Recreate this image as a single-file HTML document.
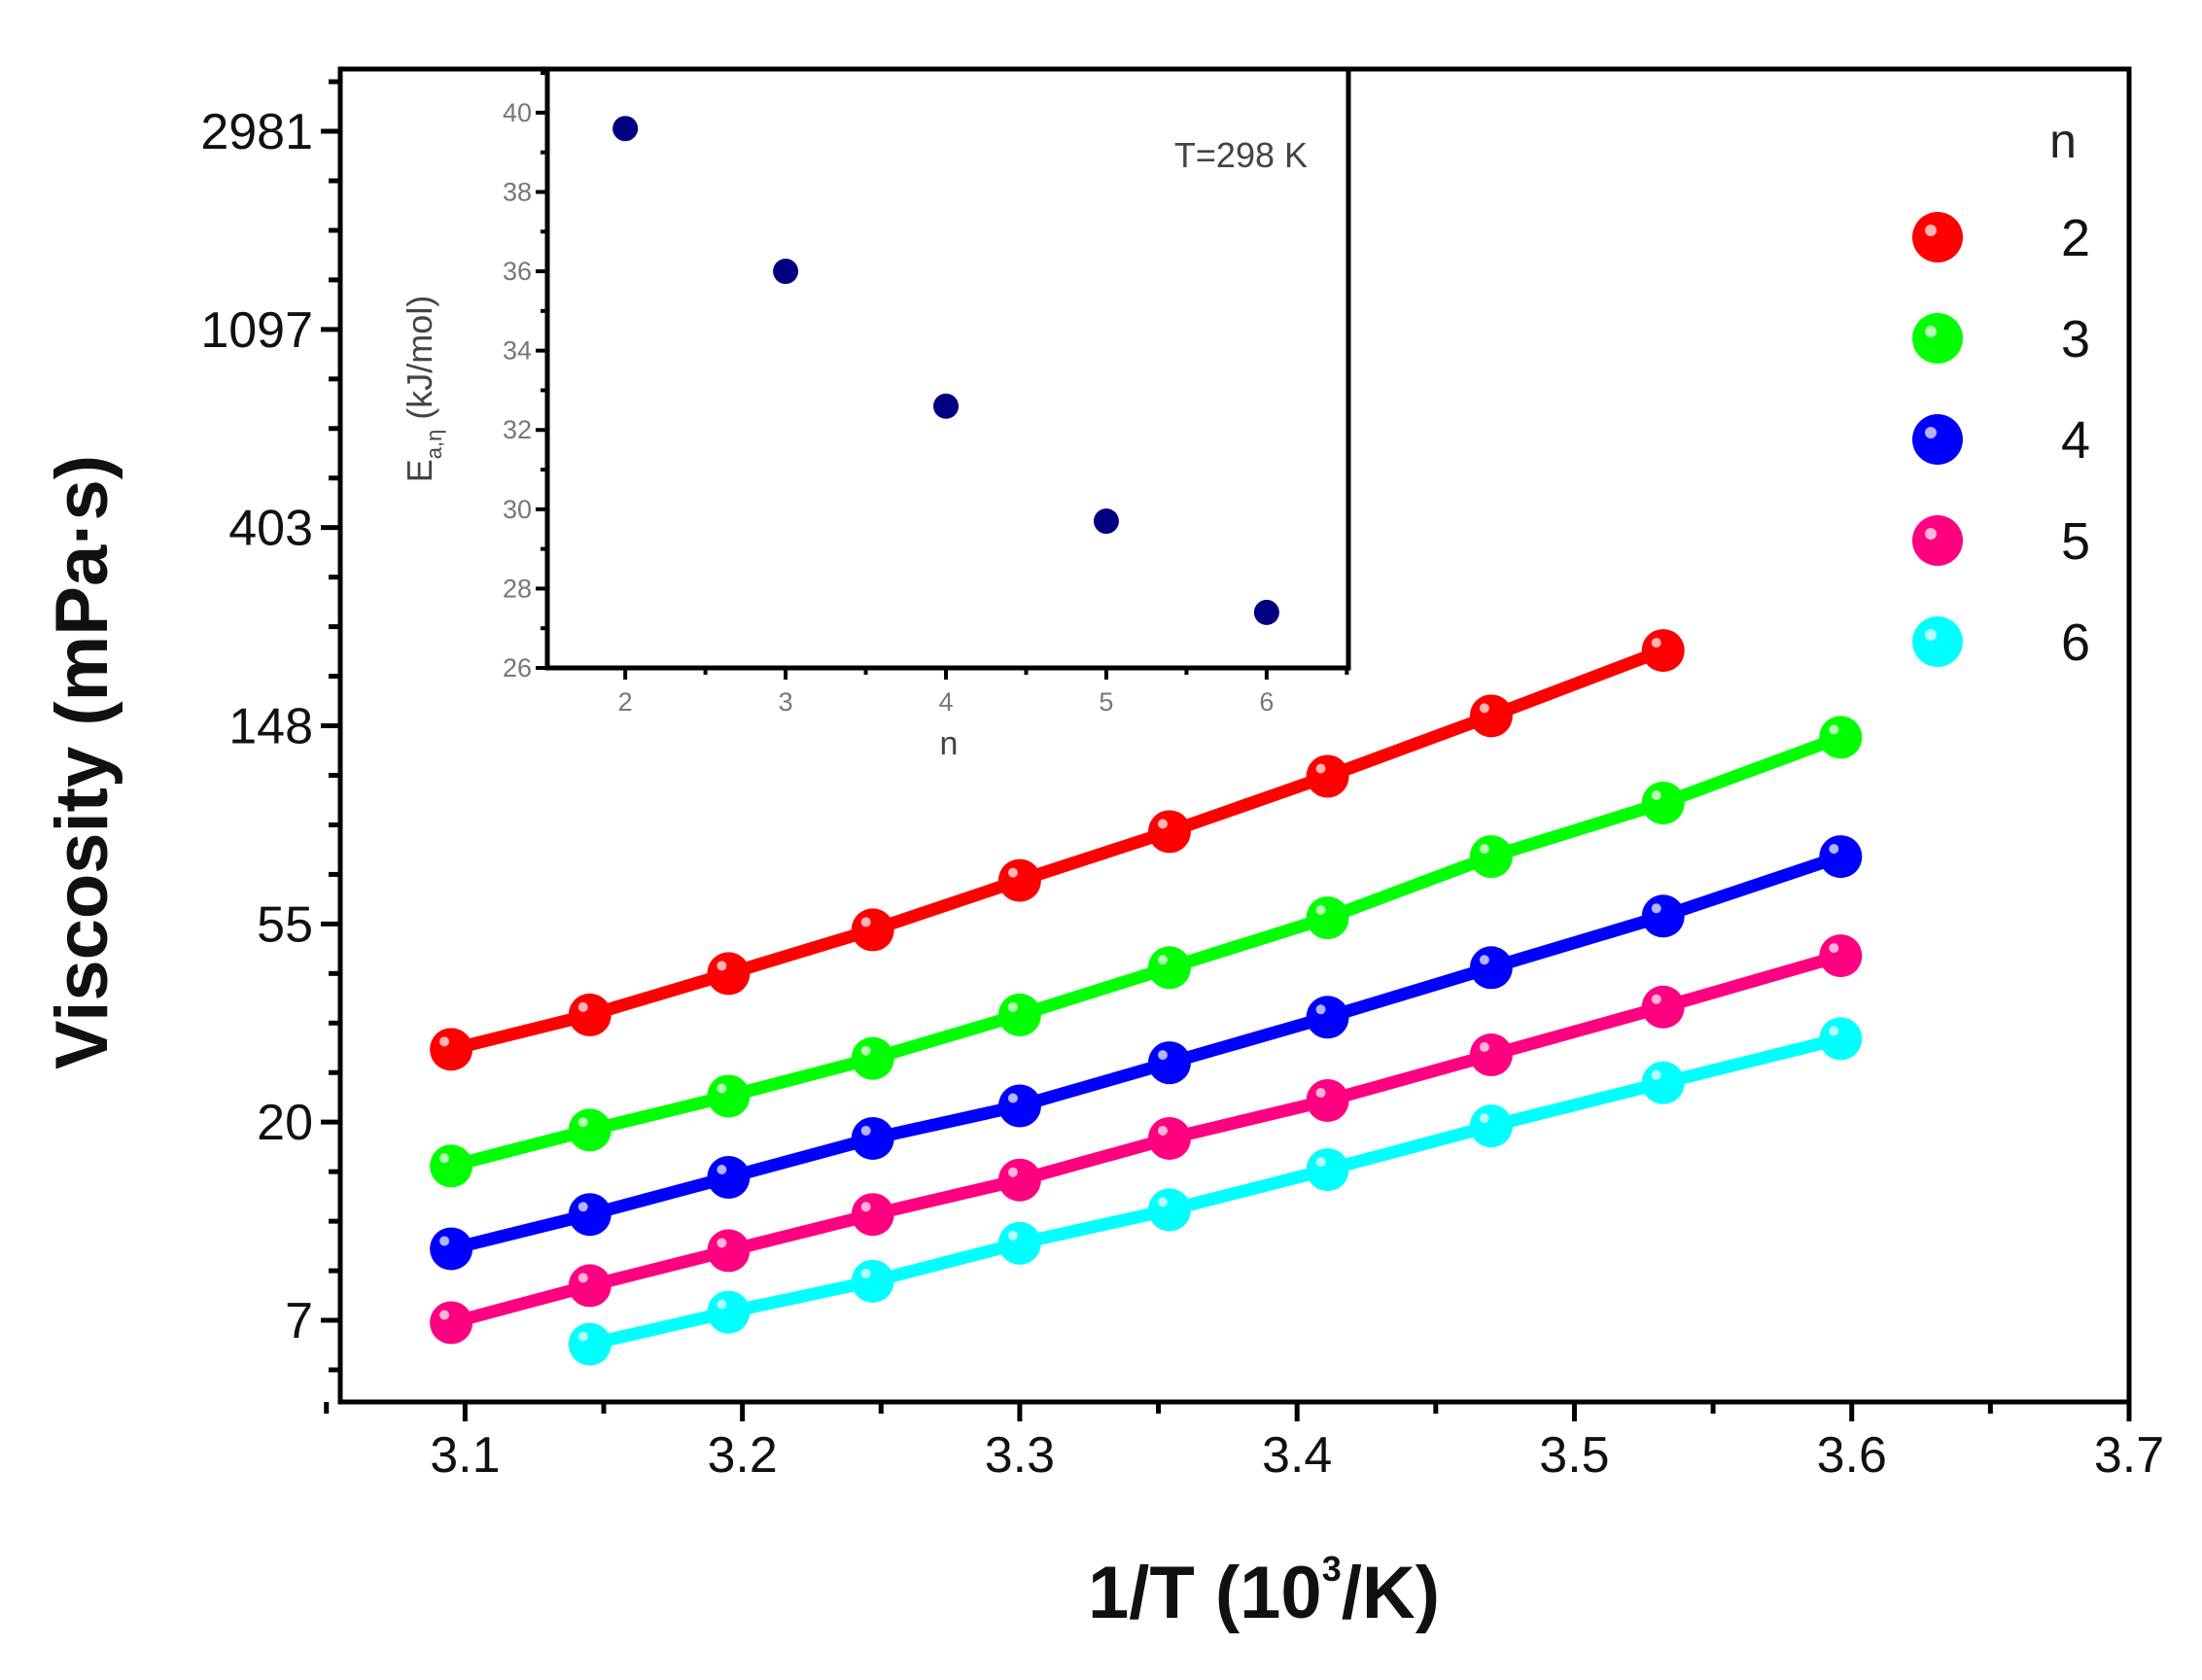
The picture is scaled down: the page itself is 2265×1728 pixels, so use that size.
<!DOCTYPE html>
<html><head><meta charset="utf-8"><style>
html,body{margin:0;padding:0;background:#fff;}
svg{display:block;}
text{font-family:"Liberation Sans",sans-serif;}
</style></head><body>
<svg id="chart" width="2265" height="1728" viewBox="0 0 2265 1728" xmlns="http://www.w3.org/2000/svg"></svg>
<script>
const xValsAll = [3.095, 3.145, 3.195, 3.247, 3.300, 3.354, 3.411, 3.470, 3.532, 3.596];
const seriesNames = ["2", "3", "4", "5", "6"];
const seriesColors = ["#ff0000", "#00ff00", "#0000ff", "#ff0080", "#00ffff"];
const red2 = [29, 34.5, 42.5, 53, 68, 87, 115, 156, 217];
const green3 = [16.1, 19.3, 22.9, 27.7, 34.5, 43.8, 56.3, 76.7, 100.5, 140];
const blue4 = [10.6, 12.6, 15.2, 18.5, 21.8, 27.1, 34.1, 43.8, 56.8, 76.7];
const pink5 = [7.3, 8.8, 10.5, 12.6, 15.0, 18.5, 22.4, 28.2, 35.9, 46.5];
const cyan6 = [6.55, 7.7, 9.0, 10.9, 12.9, 15.8, 19.7, 24.5, 30.6];
const seriesStart = [0, 0, 0, 0, 1];
const yTickLabels = ["7", "20", "55", "148", "403", "1097", "2981"];
const yTickLn = [2, 3, 4, 5, 6, 7, 8];
const xTicks = [3.1, 3.2, 3.3, 3.4, 3.5, 3.6, 3.7];
const insetN = [2, 3, 4, 5, 6];
const insetE = [39.6, 36.0, 32.6, 29.7, 27.4];
const insetYTicks = [26, 28, 30, 32, 34, 36, 38, 40];

const svg = document.getElementById('chart');
const NS = "http://www.w3.org/2000/svg";
function mk(tag, attrs, parent) {
  const e = document.createElementNS(NS, tag);
  for (const k in attrs) e.setAttribute(k, attrs[k]);
  (parent || svg).appendChild(e);
  return e;
}
const L = 350, R = 2190, T = 71, B = 1442;
const xMin = 3.055, xMax = 3.7, lnMin = 1.588, lnMax = 8.314;
const X = v => L + (v - xMin) / (xMax - xMin) * (R - L);
const Y = v => B - (Math.log(v) - lnMin) / (lnMax - lnMin) * (B - T);
const YL = l => B - (l - lnMin) / (lnMax - lnMin) * (B - T);

const allSeries = [red2, green3, blue4, pink5, cyan6];
allSeries.forEach((vals, si) => {
  const g = mk('g', {});
  
  
  const pts = vals.map((v, i) => [X(xValsAll[i + seriesStart[si]]), Y(v)]);
  const line = mk('polyline', {points: pts.map(p => p.join(',')).join(' '), fill: 'none', stroke: seriesColors[si], 'stroke-width': 13}, g);
  
  
  pts.forEach((p, i) => {
    const c = mk('circle', {cx: p[0], cy: p[1], r: 22, fill: seriesColors[si]}, g);
    
    
    mk('circle', {cx: p[0] - 7, cy: p[1] - 8, r: 5, fill: '#fff', opacity: 0.7}, g);
  });
});

const frame = mk('rect', {x: L, y: T, width: R - L, height: B - T, fill: 'none', stroke: '#000', 'stroke-width': 5});


yTickLn.forEach((l, i) => {
  const y = YL(l);
  mk('line', {x1: L - 20, x2: L, y1: y, y2: y, stroke: '#000', 'stroke-width': 5});
  const t = mk('text', {x: L - 28, y: y + 18, 'text-anchor': 'end', 'font-size': 52, fill: '#111'});
  t.textContent = yTickLabels[i];
  
  
});
for (let l = Math.ceil(lnMin * 4) / 4; l < lnMax; l += 0.25) {
  if (Math.abs(l - Math.round(l)) < 0.01) continue;
  const y = YL(l);
  mk('line', {x1: L - 12, x2: L, y1: y, y2: y, stroke: '#000', 'stroke-width': 5});
}
xTicks.forEach(v => {
  const x = X(v);
  mk('line', {x1: x, x2: x, y1: B, y2: B + 20, stroke: '#000', 'stroke-width': 5});
  const t = mk('text', {x: x, y: B + 72, 'text-anchor': 'middle', 'font-size': 52, fill: '#111'});
  t.textContent = v.toFixed(1);
  
  
});
for (let v = 3.05; v < 3.7; v += 0.1) {
  const x = X(v);
  mk('line', {x1: x, x2: x, y1: B, y2: B + 12, stroke: '#000', 'stroke-width': 5});
}
const xt = mk('text', {x: 1300, y: 1664, 'text-anchor': 'middle', 'font-size': 76, 'font-weight': 'bold', fill: '#111'});
xt.innerHTML = '1/T (10<tspan dy="-38" font-size="36">3</tspan><tspan dy="38">/K)</tspan>';


const yt = mk('text', {x: 0, y: 0, 'text-anchor': 'middle', 'font-size': 76, 'font-weight': 'bold', fill: '#111', transform: 'translate(110,784) rotate(-90)'});
yt.textContent = 'Viscosity (mPa·s)';



const lg = mk('g', {});


const lt = mk('text', {x: 2122, y: 162, 'text-anchor': 'middle', 'font-size': 50, fill: '#222'}, lg);
lt.textContent = 'n';


seriesNames.forEach((n, i) => {
  const y = 244 + i * 104;
  const m = mk('circle', {cx: 1993, cy: y, r: 26, fill: seriesColors[i]}, lg);
  
  
  mk('circle', {cx: 1986, cy: y - 7, r: 6, fill: '#fff', opacity: 0.7}, lg);
  const t = mk('text', {x: 2135, y: y + 19, 'text-anchor': 'middle', 'font-size': 54, fill: '#111'}, lg);
  t.textContent = n;
  
  
});

const iL = 563, iR = 1387, iT = 71, iB = 687;
const inMin = 1.514, inMax = 6.51, ieMin = 26, ieMax = 41.1;
const IX = v => iL + (v - inMin) / (inMax - inMin) * (iR - iL);
const IY = v => iB - (v - ieMin) / (ieMax - ieMin) * (iB - iT);
const ig = mk('g', {});


mk('rect', {x: iL, y: iT, width: iR - iL, height: iB - iT, fill: '#fff', stroke: '#000', 'stroke-width': 5}, ig);
insetYTicks.forEach(v => {
  const y = IY(v);
  mk('line', {x1: iL - 12, x2: iL, y1: y, y2: y, stroke: '#000', 'stroke-width': 4}, ig);
  mk('line', {x1: iL - 7, x2: iL, y1: IY(v + 1), y2: IY(v + 1), stroke: '#000', 'stroke-width': 4}, ig);
  const t = mk('text', {x: iL - 16, y: y + 9, 'text-anchor': 'end', 'font-size': 27, fill: '#777'}, ig);
  t.textContent = v;
  
  
});
insetN.forEach(v => {
  const x = IX(v);
  mk('line', {x1: x, x2: x, y1: iB, y2: iB + 12, stroke: '#000', 'stroke-width': 4}, ig);
  mk('line', {x1: IX(v + 0.5), x2: IX(v + 0.5), y1: iB, y2: iB + 7, stroke: '#000', 'stroke-width': 4}, ig);
  const t = mk('text', {x: x, y: iB + 44, 'text-anchor': 'middle', 'font-size': 27, fill: '#777'}, ig);
  t.textContent = v;
  
  
});
insetN.forEach((n, i) => {
  const c = mk('circle', {cx: IX(n), cy: IY(insetE[i]), r: 13, fill: '#000080'}, ig);
  
  
});
const tx = mk('text', {x: 1345, y: 172, 'text-anchor': 'end', 'font-size': 36, fill: '#444'}, ig);
tx.textContent = 'T=298 K';


const ixl = mk('text', {x: 976, y: 776, 'text-anchor': 'middle', 'font-size': 34, fill: '#444'}, ig);
ixl.textContent = 'n';


const iyl = mk('text', {x: 0, y: 0, 'text-anchor': 'middle', 'font-size': 36, fill: '#444', transform: 'translate(444,400) rotate(-90)'}, ig);
iyl.innerHTML = 'E<tspan dy="10" font-size="22">a,η</tspan><tspan dy="-10"> (kJ/mol)</tspan>';


</script>
</body></html>
